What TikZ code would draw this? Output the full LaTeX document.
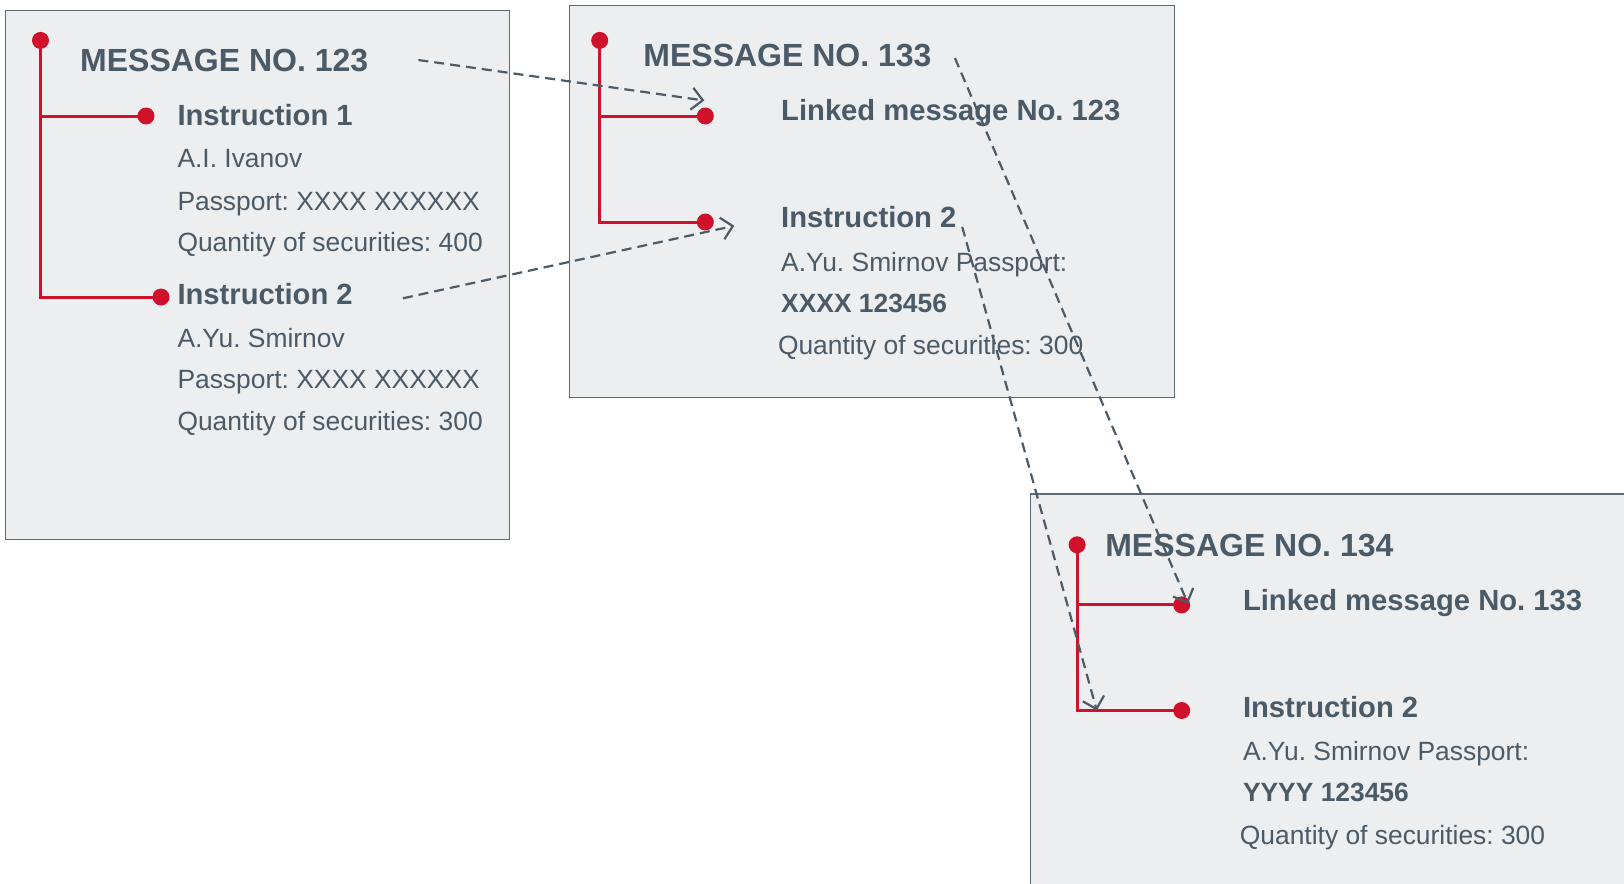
\documentclass[tikz,border=0pt]{standalone}
\usepackage{fontspec}
\setmainfont{Liberation Sans}
\usetikzlibrary{arrows.meta}
\definecolor{txt}{HTML}{4B5A67}
\definecolor{boxfill}{HTML}{EDEEF0}
\definecolor{boxline}{HTML}{5E6A75}
\definecolor{redc}{HTML}{D0112B}
\definecolor{dashc}{HTML}{4D5B67}
\frenchspacing
\begin{document}
\begin{tikzpicture}[x=1pt,y=-1pt,
  msgbox/.style={draw=boxline, fill=boxfill, line width=1.3pt},
  dot/.style={circle, fill=redc, inner sep=0pt, minimum size=17pt},
  tree/.style={draw=redc, line width=3pt},
  head/.style={anchor=base west, inner sep=0pt, text=txt, font=\fontsize{32}{38}\selectfont\bfseries},
  sub/.style={anchor=base west, inner sep=0pt, text=txt, font=\fontsize{29.2}{35}\selectfont\bfseries},
  body/.style={anchor=base west, inner sep=0pt, text=txt, font=\fontsize{26.4}{31}\selectfont},
  bodyb/.style={anchor=base west, inner sep=0pt, text=txt, font=\fontsize{26.4}{31}\selectfont\bfseries},
  link/.style={draw=dashc, line width=2.2pt, dash pattern=on 10pt off 6pt, -{Straight Barb[length=11pt,width=22pt]}}
]
\useasboundingbox (0,0) rectangle (1624,883);
\clip (0,0) rectangle (1624,883);

% boxes
\path[msgbox] (5.2,10.4) rectangle (509.6,539.6);
\path[msgbox] (569.6,5.2) rectangle (1174.5,397.7);
\path[msgbox] (1030.5,494) rectangle (1650,910);

% ---- Message 123 ----
\node[dot] (t1) at (40.5,40.4) {};
\node[dot] (a1) at (146,116) {};
\node[dot] (b1) at (161,297) {};
\draw[tree] (t1.center) |- (a1.center);
\draw[tree] (t1.center) |- (b1.center);
\node[head] (m1) at (80,71.5) {MESSAGE NO. 123};
\node[sub] (i11) at (177.3,125) {Instruction 1};
\node[body] (i11a) at (177.3,167.8) {A.I. Ivanov};
\node[body] (i11b) at (177.3,210.3) {Passport: XXXX XXXXXX};
\node[body] (i11c) at (177.3,251.7) {Quantity of securities: 400};
\node[sub] (i12) at (177.3,304.3) {Instruction 2};
\node[body] (i12a) at (177.3,347.3) {A.Yu. Smirnov};
\node[body] (i12b) at (177.3,388.3) {Passport: XXXX XXXXXX};
\node[body] (i12c) at (177.3,430) {Quantity of securities: 300};

% ---- Message 133 ----
\node[dot] (t2) at (599.7,40.4) {};
\node[dot] (a2) at (705.3,116) {};
\node[dot] (b2) at (705.3,222) {};
\draw[tree] (t2.center) |- (a2.center);
\draw[tree] (t2.center) |- (b2.center);
\node[head] (m2) at (643.2,66.4) {MESSAGE NO. 133};
\node[sub] (l2) at (781,120.2) {Linked message No. 123};
\node[sub] (i22) at (781,227.9) {Instruction 2};
\node[body] (i22a) at (781,271.3) {A.Yu. Smirnov Passport:};
\node[bodyb] (i22b) at (781,312.8) {XXXX 123456};
\node[body] (i22c) at (777.8,354.2) {Quantity of securities: 300};

% ---- Message 134 ----
\node[dot] (t3) at (1077.1,544.8) {};
\node[dot] (a3) at (1181.7,604.9) {};
\node[dot] (b3) at (1181.7,710.5) {};
\draw[tree] (t3.center) |- (a3.center);
\draw[tree] (t3.center) |- (b3.center);
\node[head] (m3) at (1105.1,556.3) {MESSAGE NO. 134};
\node[sub] (l3) at (1242.8,610.1) {Linked message No. 133};
\node[sub] (i32) at (1242.8,717.8) {Instruction 2};
\node[body] (i32a) at (1242.8,760.2) {A.Yu. Smirnov Passport:};
\node[bodyb] (i32b) at (1242.8,801.6) {YYYY 123456};
\node[body] (i32c) at (1239.7,844.1) {Quantity of securities: 300};

% ---- dashed links ----
\coordinate (s1) at (418.4,60);
\coordinate (e1) at (704.3,100.5);
\coordinate (s2) at (402.9,298.3);
\coordinate (e2) at (734.3,225.8);
\coordinate (s3) at (954.9,58);
\coordinate (e3) at (1188,603.8);
\coordinate (s4) at (962.2,226.8);
\coordinate (e4) at (1096.8,710.5);
\draw[link] (s1) -- (e1);
\draw[link] (s2) -- (e2);
\draw[link] (s3) -- (e3);
\draw[link] (s4) -- (e4);
\end{tikzpicture}
\end{document}
